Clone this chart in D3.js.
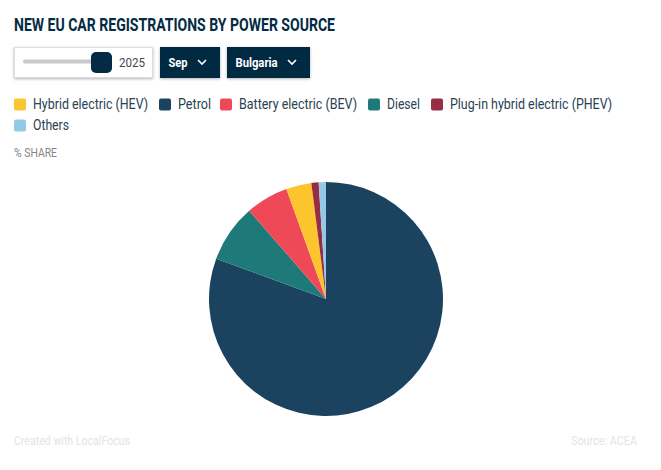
<!DOCTYPE html>
<html><head><meta charset="utf-8">
<script src="https://cdnjs.cloudflare.com/ajax/libs/d3/7.9.0/d3.min.js"></script>
<style>html,body{margin:0;padding:0;background:#fff}svg{display:block}text{font-family:Roboto,sans-serif}</style>
</head><body><svg id="c" width="661" height="470"></svg>
<script>
const categories=["Petrol","Diesel","Battery electric (BEV)","Hybrid electric (HEV)","Plug-in hybrid electric (PHEV)","Others"];
const shares=[80.6,8.0,5.9,3.5,1.0,1.0];
const colors=["#1b4360","#1e7a78","#ef4957","#fcc42d","#962d44","#93c8e8"];
const legendOrder=["Hybrid electric (HEV)","Petrol","Battery electric (BEV)","Diesel","Plug-in hybrid electric (PHEV)","Others"];
const legendSwatchX=[14,159,220,368,431,14];
const legendTextWidths=[115,33,118,33,162,36];
const legendRowY=[104,104,104,104,104,125];
const svg=d3.select("#c");
const defs=svg.append("defs");
const f=defs.append("filter").attr("id","sh").attr("x","-10%").attr("y","-20%").attr("width","120%").attr("height","150%");
f.append("feDropShadow").attr("dx",0).attr("dy",1).attr("stdDeviation",1.6).attr("flood-color","#000").attr("flood-opacity",.3);
const fit=(s,t,w)=>s.append("text").text(t).attr("textLength",w).attr("lengthAdjust","spacingAndGlyphs");
const dark="#032b43";
fit(svg,"NEW EU CAR REGISTRATIONS BY POWER SOURCE",321).attr("x",14).attr("y",30.5).attr("font-size",17.5).attr("font-weight",700).attr("fill",dark);
svg.append("rect").attr("x",14.5).attr("y",47.5).attr("width",138).attr("height",30).attr("fill","#fff").attr("stroke","#ddd").attr("filter","url(#sh)");
svg.append("rect").attr("x",23).attr("y",59.5).attr("width",72).attr("height",4).attr("rx",2).attr("fill","#c9c9c9");
svg.append("rect").attr("x",91).attr("y",52).attr("width",21).attr("height",21).attr("rx",5).attr("fill",dark);
fit(svg,"2025",26).attr("x",119).attr("y",66.5).attr("font-size",13.5).attr("fill","#3a4a55");
const btn=[["Sep",160,60,19],["Bulgaria",227,83,42]];
btn.forEach(([t,x,w,tw])=>{
 svg.append("rect").attr("x",x).attr("y",47).attr("width",w).attr("height",31).attr("fill",dark).attr("filter","url(#sh)");
 fit(svg,t,tw).attr("x",x+8.5).attr("y",66.5).attr("font-size",13.5).attr("font-weight",700).attr("fill","#fff");
 const cx=x+w-18;
 svg.append("path").attr("d",d3.line()([[cx-4,60],[cx,64],[cx+4,60]])).attr("fill","none").attr("stroke","#fff").attr("stroke-width",1.6);
});
const color=d3.scaleOrdinal(categories,colors);
const lg=svg.selectAll("g.l").data(legendOrder).join("g").attr("class","l").attr("transform",(d,i)=>`translate(${legendSwatchX[i]},${legendRowY[i]})`);
lg.append("rect").attr("y",-5.5).attr("width",12).attr("height",12).attr("rx",2).attr("fill",d=>color(d));
lg.append("text").text(d=>d).attr("x",19).attr("y",5).attr("font-size",15).attr("fill","#2b4253")
  .attr("textLength",(d,i)=>legendTextWidths[i]).attr("lengthAdjust","spacingAndGlyphs");
fit(svg,"% SHARE",43).attr("x",14).attr("y",157).attr("font-size",12.5).attr("fill","#868686");
const pie=d3.pie().sort(null).value(d=>d.v);
const arc=d3.arc().innerRadius(0).outerRadius(117);
const data=categories.map((c,i)=>({c,v:shares[i]}));
svg.append("g").attr("transform","translate(326,299)").selectAll("path").data(pie(data)).join("path")
  .attr("d",arc).attr("fill",d=>color(d.data.c));
fit(svg,"Created with LocalFocus",116).attr("x",14).attr("y",444.5).attr("font-size",13).attr("fill","#e4e4e4");
fit(svg,"Source: ACEA",66).attr("x",571).attr("y",444.5).attr("font-size",13).attr("fill","#e4e4e4");
</script></body></html>
